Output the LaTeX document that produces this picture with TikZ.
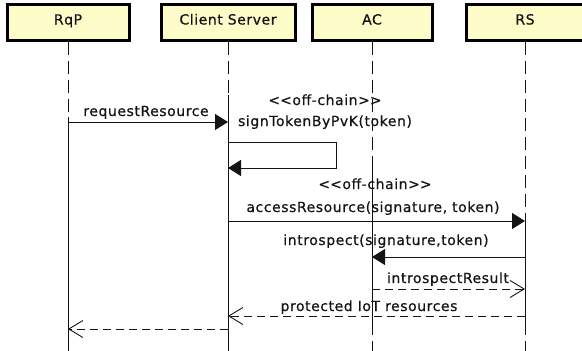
\documentclass[tikz,border=0pt]{standalone}
\usepackage{fontspec}
\setmainfont{DejaVu Sans}[LetterSpace=4, FakeBold=0.6]
\usetikzlibrary{arrows.meta}
\definecolor{boxfill}{RGB}{254,252,200}
\definecolor{ink}{RGB}{20,20,20}
\begin{document}
\begin{tikzpicture}[x=1pt,y=-1pt,
  actor/.style={draw=black, line width=3pt, fill=boxfill, minimum height=36pt,
    inner sep=0pt, text height=10pt, text depth=5pt, text=ink,
    font=\fontsize{14}{16}\selectfont},
  life/.style={line width=0.8pt, draw=ink},
  lifedash/.style={life, dash pattern=on 13pt off 6pt},
  msg/.style={line width=0.9pt, draw=ink, -{Triangle[length=13pt,width=16pt]}},
  reply/.style={line width=0.9pt, draw=ink, dash pattern=on 8pt off 5pt,
    -{Straight Barb[length=14pt,width=17pt,line width=0.9pt]}},
  lbl/.style={font=\fontsize{14}{16}\selectfont, inner sep=0pt, anchor=base, text=ink}
]
\useasboundingbox (0,0) rectangle (582,351);

% participants
\node[actor, minimum width=122pt] (rqp) at (68,22)  {RqP};
\node[actor, minimum width=134pt] (cs)  at (228,22) {Client Server};
\node[actor, minimum width=120pt] (ac)  at (372,22) {AC};
\node[actor, minimum width=118pt] (rs)  at (525,22) {RS};

% lifelines: dashed while idle, solid while active
\draw[lifedash] (rqp.south) -- (rqp |- 0,117) coordinate (rqpOn);
\draw[life] (rqpOn) -- (rqp |- 0,355) coordinate (rqpEnd);
\draw[lifedash] (cs.south) -- (cs |- 0,95) coordinate (csOn);
\draw[life] (csOn) -- (cs |- 0,355) coordinate (csEnd);
\draw[lifedash] (ac.south) -- (ac |- 0,168) coordinate (acOn);
\draw[life] (acOn) -- (ac |- 0,322) coordinate (acOff);
\draw[lifedash] (acOff) -- (ac |- 0,360);
\draw[lifedash] (rs.south) -- (rs |- 0,214) coordinate (rsOn);
\draw[life] (rsOn) -- (rs |- 0,322) coordinate (rsOff);
\draw[lifedash] (rsOff) -- (rs |- 0,360);

% requestResource
\draw[msg] (rqp |- 0,122) -- (cs |- 0,122);
\node[lbl] (lReq) at (146,116) {requestResource};

% self call on the client server
\node[lbl] (lOff1) at (325,105) {<\kern0pt<off-chain>\kern0pt>};
\node[lbl] (lSign) at (325,126) {signTokenByPvK(token)};
\coordinate (loopA) at (336,142);
\coordinate (loopB) at (336,168);
\draw[msg] (cs |- 0,142) -- (loopA) -- (loopB) -- (cs |- 0,168);

% accessResource
\node[lbl] (lOff2) at (375,189) {<\kern0pt<off-chain>\kern0pt>};
\node[lbl] (lAcc) at (373,212) {accessResource(signature, token)};
\draw[msg] (cs |- 0,221) -- (rs |- 0,221);

% introspect
\node[lbl] (lIntro) at (386,245) {introspect(signature,token)};
\draw[msg] (rs |- 0,257) -- (ac |- 0,257);

% introspectResult
\node[lbl] (lRes) at (448,283) {introspectResult};
\draw[reply] (ac |- 0,289) -- (rs |- 0,289);

% protected IoT resources
\node[lbl] (lProt) at (369,311) {protected IoT resources};
\draw[reply] (rs |- 0,316) -- (cs |- 0,316);

% final return to the requesting party
\draw[reply] (cs |- 0,329) -- (rqp |- 0,329);
\end{tikzpicture}
\end{document}
